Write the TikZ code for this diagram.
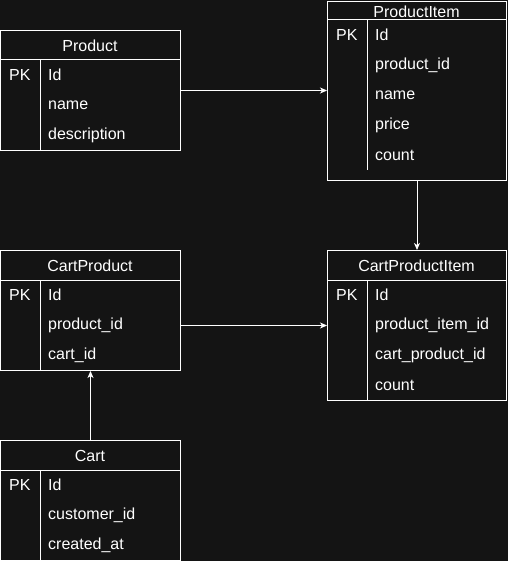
\documentclass[tikz,border=0pt]{standalone}
\usepackage{fontspec}
\setmainfont{Liberation Sans}
\usetikzlibrary{arrows.meta}
\definecolor{bgdark}{HTML}{141414}
\begin{document}
\begin{tikzpicture}[x=1pt, y=-1pt, font=\fontsize{16}{19}\selectfont,
    entity/.style={draw=white, line width=1pt, anchor=north west, inner sep=0pt,
      minimum width=180pt},
    rule/.style={draw=white, line width=1pt},
    field/.style={anchor=west, inner sep=0pt, text=white},
    title/.style={inner sep=0pt, text=white},
    link/.style={draw=white, line width=1pt, -{Stealth[length=7pt, width=6pt, inset=2pt]}}]

    % background fixes the margins
    \useasboundingbox[fill=bgdark] (0,0) rectangle (508,561);

    % entity boxes
    \node[entity, minimum height=120pt] (product) at (0,30) {};
    \node[entity, minimum width=179pt, minimum height=179pt] (productitem) at (327,1) {};
    \node[entity, minimum height=120pt] (cartproduct) at (0,250) {};
    \node[entity, minimum width=179pt, minimum height=150pt] (cartproductitem) at (327,250) {};
    \node[entity, minimum height=120pt] (cart) at (0,440) {};

    % titles, header lines and key column
    \foreach \e/\t/\x/\y/\h/\w/\b in {product/Product/0/30/30/180/150,
        productitem/ProductItem/327/1/19/179/170,
        cartproduct/CartProduct/0/250/30/180/370,
        cartproductitem/CartProductItem/327/250/30/179/400,
        cart/Cart/0/440/30/180/560}
    {
      \node[title] (\e-title) at ({\x+\w/2}, {\y+\h/2+1}) {\t};
      \draw[rule] (\x,\y+\h) -- ++(\w,0);
      \draw[rule] (\x+40,\y+\h) -- (\x+40,\b);
      \node[field] (\e-pk) at (\x+9, \y+\h+15) {PK};
    }

    % fields
    \foreach \f [count=\i] in {Id, name, description}
      \node[field] (product-f\i) at (48, 45+30*\i) {\f};
    \foreach \f [count=\i] in {Id, product\_id, name, price, count}
      \node[field] (productitem-f\i) at (375, 5+30*\i) {\f};
    \foreach \f [count=\i] in {Id, product\_id, cart\_id}
      \node[field] (cartproduct-f\i) at (48, 265+30*\i) {\f};
    \foreach \f [count=\i] in {Id, product\_item\_id, cart\_product\_id, count}
      \node[field] (cartproductitem-f\i) at (375, 265+30*\i) {\f};
    \foreach \f [count=\i] in {Id, customer\_id, created\_at}
      \node[field] (cart-f\i) at (48, 455+30*\i) {\f};

    % relations
    \draw[link] (product.east) -- (product.east -| productitem.west);
    \draw[link] (productitem.south) -- (cartproductitem.north);
    \draw[link] (cartproduct.east |- cartproductitem.west) -- (cartproductitem.west);
    \draw[link] (cart.north) -- (cartproduct.south);
  \end{tikzpicture}
\end{document}
